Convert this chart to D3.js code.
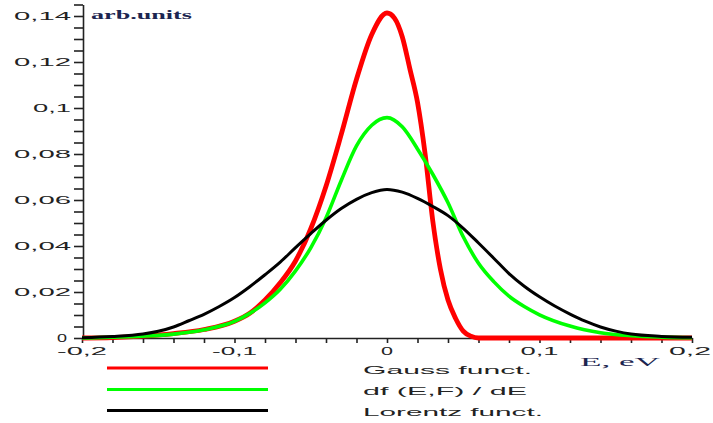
<!DOCTYPE html>
<html><head><meta charset="utf-8">
<script src="https://cdn.jsdelivr.net/npm/d3@7"></script>
<style>html,body{margin:0;padding:0;background:#fff;overflow:hidden}</style>
</head><body><svg id="c" width="713" height="423"></svg>
<script>
// ---- data ----
const gaussE = [-0.2,-0.18,-0.16,-0.14,-0.12,-0.1,-0.09,-0.08,-0.07,-0.06,-0.05,-0.04,-0.03,-0.02,-0.01,0,0.005,0.01,0.015,0.02,0.025,0.03,0.035,0.04,0.045,0.05,0.055,0.06,0.1,0.15,0.2];
const gaussV = [0,0.0002,0.0008,0.0019,0.0037,0.0073,0.0108,0.0165,0.024,0.0335,0.0475,0.066,0.0885,0.1125,0.132,0.1413,0.139,0.131,0.117,0.1025,0.080,0.051,0.030,0.0165,0.0085,0.003,0.0008,0,0,0,0];
const dfE = [-0.2,-0.18,-0.16,-0.14,-0.12,-0.1,-0.09,-0.08,-0.07,-0.06,-0.05,-0.04,-0.03,-0.02,-0.01,0,0.01,0.02,0.03,0.04,0.05,0.06,0.07,0.08,0.09,0.1,0.12,0.14,0.16,0.18,0.2];
const dfV = [0,0.0003,0.0008,0.0017,0.0036,0.0072,0.0107,0.0153,0.0212,0.0292,0.0392,0.0522,0.0685,0.0835,0.0925,0.0958,0.0918,0.0822,0.0712,0.0588,0.044,0.0325,0.0245,0.0182,0.0137,0.0101,0.0052,0.0023,0.001,0.0004,0.0001];
const lorE = [-0.2,-0.18,-0.16,-0.15,-0.14,-0.13,-0.12,-0.11,-0.1,-0.09,-0.08,-0.07,-0.06,-0.05,-0.04,-0.03,-0.02,-0.01,0,0.01,0.02,0.03,0.04,0.05,0.06,0.07,0.08,0.09,0.1,0.11,0.12,0.13,0.14,0.15,0.16,0.18,0.2];
const lorV = [0.0001,0.0006,0.0017,0.0029,0.0048,0.0075,0.0103,0.0137,0.0176,0.0223,0.0275,0.033,0.0393,0.0454,0.0512,0.0563,0.0603,0.0632,0.0646,0.0634,0.0607,0.0572,0.0532,0.0477,0.0413,0.0347,0.028,0.0225,0.0179,0.0139,0.0104,0.0073,0.0048,0.003,0.0017,0.0007,0.0003];

const xLabelValues = [-0.2,-0.1,0,0.1,0.2];
const xTickLabels = ["-0,2","-0,1","0","0,1","0,2"];
const yLabelValues = [0,0.02,0.04,0.06,0.08,0.1,0.12,0.14];
const yTickLabels = ["0","0,02","0,04","0,06","0,08","0,1","0,12","0,14"];
const seriesNames = ["Gauss funct.","df (E,F) / dE","Lorentz funct."];
const seriesColors = ["#ff0000","#00ff00","#000000"];
const xTitle = "E, eV";
const yTitle = "arb.units";

// ---- chart ----
const svg = d3.select("#c");
const x = d3.scaleLinear().domain([-0.2,0.2]).range([82,692]);
const y = d3.scaleLinear().domain([0,0.145]).range([338,4.5]);

// axes
svg.append("g").attr("transform","translate(83,0)")
  .call(d3.axisLeft(y).tickValues(d3.range(0,0.1451,0.005)).tickSize(9).tickSizeOuter(0).tickFormat(""))
  .call(g=>g.selectAll("path,line").attr("stroke","#222").attr("stroke-width",1.6));
svg.append("g").attr("transform","translate(0,338)")
  .call(d3.axisBottom(x).tickValues(d3.range(-0.2,0.2001,0.02)).tickSize(5).tickSizeOuter(0).tickFormat(""))
  .call(g=>g.selectAll("path,line").attr("stroke","#222").attr("stroke-width",1.6));

function stretched(s, px, py, w, anchor, font, size, color, weight){
  return svg.append("text").attr("x",px).attr("y",py).attr("text-anchor",anchor)
    .attr("font-family",font).attr("font-size",size).attr("fill",color)
    .attr("font-weight",weight||"normal")
    .attr("textLength",w).attr("lengthAdjust","spacingAndGlyphs").text(s);
}
const sans = "'Liberation Sans', Arial, sans-serif";
const serif = "'Liberation Serif', 'Times New Roman', serif";

// y tick labels
const yW = {"0":10,"0,1":38};
yLabelValues.forEach((v,i)=>{
  const s = yTickLabels[i];
  stretched(s, s==="0"?67:71, y(v)+4, yW[s]||57, "end", sans, 11, "#222");
});
// x tick labels
const xW = {"-0,2":50,"-0,1":45,"0":12,"0,1":38,"0,2":42};
xLabelValues.forEach((v,i)=>{
  const s = xTickLabels[i];
  stretched(s, x(v)+ (v===0.2?-2:0), 355, xW[s], "middle", sans, 11, "#222");
});

// curves
const line = d3.line().x(d=>x(d[0])).y(d=>y(d[1])).curve(d3.curveMonotoneX);
const series = [
  {E:gaussE, V:gaussV, w:4.8},
  {E:dfE, V:dfV, w:3.6},
  {E:lorE, V:lorV, w:3}
];
series.forEach((s,i)=>{
  svg.append("path").datum(s.E.map((e,j)=>[e,s.V[j]]))
    .attr("d",line).attr("fill","none").attr("stroke",seriesColors[i])
    .attr("stroke-width",s.w).attr("stroke-linejoin","round");
});

// titles
stretched(yTitle, 91, 18.5, 101, "start", serif, 12.5, "#1c2550", "bold");
stretched(xTitle, 580, 366, 80, "start", serif, 13.5, "#1c2550", "normal");

// legend
const legY = [368, 389.5, 410.5];
const legBase = [373.5, 395, 415.5];
const legW = [169, 164, 180];
seriesNames.forEach((n,i)=>{
  svg.append("line").attr("x1",107).attr("x2",268).attr("y1",legY[i]).attr("y2",legY[i])
    .attr("stroke",seriesColors[i]).attr("stroke-width",3);
  stretched(n, 363, legBase[i], legW[i], "start", sans, 11.5, "#222");
});
</script></body></html>
